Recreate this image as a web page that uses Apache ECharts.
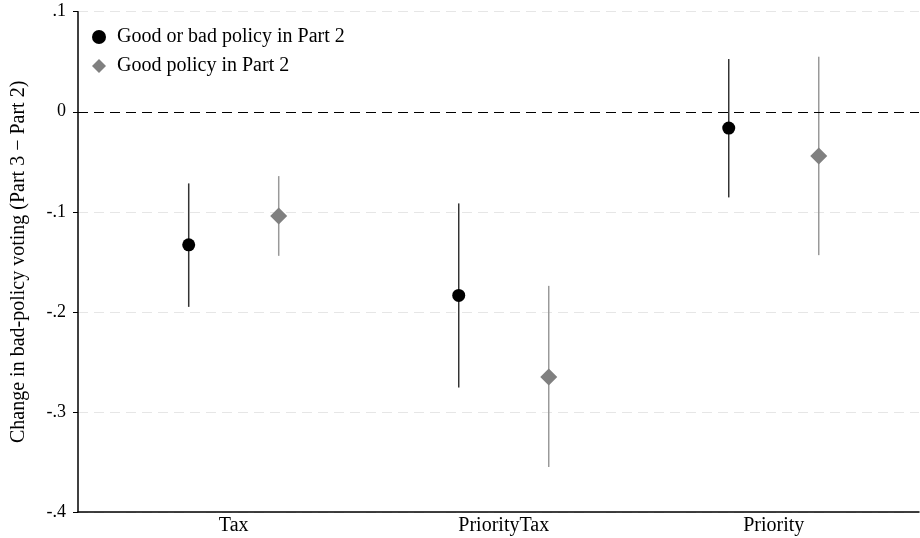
<!DOCTYPE html>
<html>
<head>
<meta charset="utf-8">
<script src="https://cdn.jsdelivr.net/npm/echarts@6/dist/echarts.min.js"></script>
<style>html,body{margin:0;padding:0;background:#fff}#c{width:920px;height:538px}</style>
</head>
<body>
<div id="c"></div>
<script>
const categories = ['Tax', 'PriorityTax', 'Priority'];
const seriesNames = ['Good or bad policy in Part 2', 'Good policy in Part 2'];
// point estimates
const allEst  = [-0.133, -0.1836, -0.0163];
const goodEst = [-0.1043, -0.265, -0.0443];
// confidence intervals
const allLo  = [-0.195, -0.2756, -0.0856];
const allHi  = [-0.0716, -0.0916, 0.0527];
const goodLo = [-0.144, -0.355, -0.1433];
const goodHi = [-0.0643, -0.174, 0.055];
const yTicks = [-0.4, -0.3, -0.2, -0.1, 0, 0.1];
const offset = 1/6;

const font = 'Liberation Serif';
function fmtTick(v){
  if (Math.abs(v) < 1e-9) return '0';
  const s = (Math.round(v*10)/10).toString();
  return s.replace('0.', '.');
}
function ciData(lo, hi, shift){
  return lo.map((l, i) => [i + 1 + shift, l, hi[i]]);
}
function ciSeries(lo, hi, shift, color){
  return {
    type: 'custom',
    silent: true,
    z: 2,
    data: ciData(lo, hi, shift),
    renderItem: function(params, api){
      const p1 = api.coord([api.value(0), api.value(1)]);
      const p2 = api.coord([api.value(0), api.value(2)]);
      return { type: 'line', shape: {x1: p1[0], y1: p1[1], x2: p2[0], y2: p2[1]},
               style: {stroke: color, lineWidth: 1.5} };
    }
  };
}
const chart = echarts.init(document.getElementById('c'));
chart.setOption({
  animation: false,
  backgroundColor: '#fff',
  grid: {left: 78, right: 1, top: 11.7, bottom: 26, containLabel: false, outerBoundsMode: 'none'},
  legend: {
    left: 87, top: 22, orient: 'vertical', itemGap: 9,
    itemWidth: 14, itemHeight: 14,
    textStyle: {fontFamily: font, fontSize: 20, color: '#000', padding: [0,0,0,6]},
    data: [{name: seriesNames[0], icon: 'circle'}, {name: seriesNames[1], icon: 'diamond'}]
  },
  xAxis: {
    type: 'value', min: 0.4233, max: 3.538,
    axisLine: {show: true, onZero: false, lineStyle: {color: '#000', width: 1.5}},
    axisTick: {show: false},
    splitLine: {show: false},
    axisLabel: {
      customValues: [1, 2, 3],
      formatter: v => categories[Math.round(v) - 1] || '',
      fontFamily: font, fontSize: 20, color: '#000', margin: 4
    }
  },
  yAxis: {
    type: 'value', min: -0.4, max: 0.1, interval: 0.1,
    name: 'Change in bad-policy voting (Part 3 \u2212 Part 2)',
    nameLocation: 'middle', nameRotate: 90, nameGap: 49,
    nameTextStyle: {fontFamily: font, fontSize: 20, color: '#000'},
    axisLine: {show: true, onZero: false, lineStyle: {color: '#000', width: 1.5}},
    axisTick: {show: true, length: 5, lineStyle: {color: '#000'}},
    axisLabel: {formatter: fmtTick, fontFamily: font, fontSize: 18, color: '#000', margin: 12},
    splitLine: {show: true, lineStyle: {color: '#e6e6e6', type: [10, 6], width: 1.2}}
  },
  series: [
    ciSeries(allLo, allHi, -offset, '#333'),
    ciSeries(goodLo, goodHi, offset, '#999'),
    {
      name: seriesNames[0], type: 'scatter', symbol: 'circle', symbolSize: 13, z: 3,
      itemStyle: {color: '#000', opacity: 1},
      data: allEst.map((v, i) => [i + 1 - offset, v]),
      markLine: {
        silent: true, symbol: 'none', label: {show: false},
        lineStyle: {color: '#000', type: [10, 6], width: 1.2},
        data: [{yAxis: 0}]
      }
    },
    {
      name: seriesNames[1], type: 'scatter', symbol: 'diamond', symbolSize: 17, z: 3,
      itemStyle: {color: '#808080', opacity: 1},
      data: goodEst.map((v, i) => [i + 1 + offset, v])
    }
  ]
});
</script>
</body>
</html>
